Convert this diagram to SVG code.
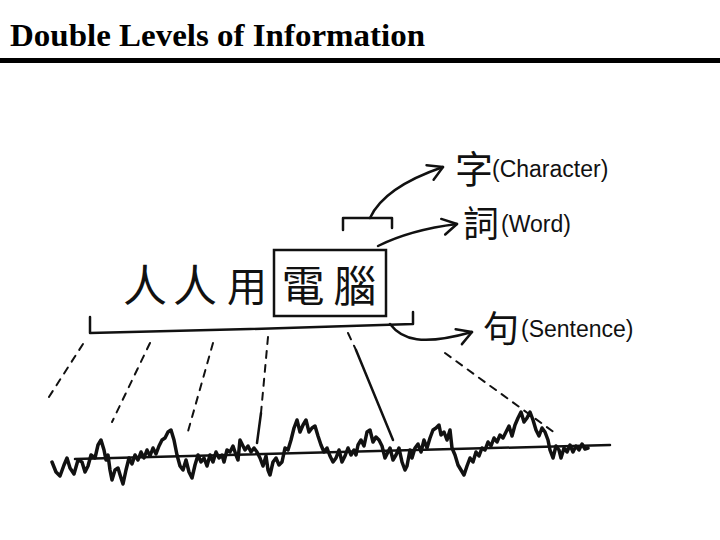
<svg xmlns="http://www.w3.org/2000/svg" width="720" height="540" viewBox="0 0 720 540">
<style>
.title{font-family:"Liberation Serif","Times New Roman",serif;font-weight:bold;font-size:32px;fill:#000}
.cjk{font-family:"Noto Sans CJK TC","Noto Sans CJK SC",sans-serif;fill:#111;text-anchor:middle}
.lbl{font-family:"Liberation Sans",Arial,sans-serif;font-size:23px;fill:#111}
.ln{fill:none;stroke:#111;stroke-width:2.5;stroke-linecap:round;stroke-linejoin:round}
.dash{fill:none;stroke:#111;stroke-width:2;stroke-dasharray:7 7;stroke-linecap:round}
.arr{fill:none;stroke:#111;stroke-width:2.5;stroke-linecap:round;marker-end:url(#ah)}
.wave{fill:none;stroke:#111;stroke-width:3.5;stroke-linejoin:round;stroke-linecap:round}
</style>
<defs>
<marker id="ah" markerUnits="userSpaceOnUse" markerWidth="24" markerHeight="24" refX="0" refY="0" viewBox="-16 -12 24 24" orient="auto" overflow="visible">
<path d="M-15,-7 L0,0 L-13,9" fill="none" stroke="#111" stroke-width="2.5" stroke-linecap="round" stroke-linejoin="round"/>
</marker>
</defs>
<rect width="720" height="540" fill="#fff"/>
<g id="title">
<text class="title" x="10" y="46" textLength="415" lengthAdjust="spacingAndGlyphs">Double Levels of Information</text>
<rect x="0" y="58" width="720" height="5" fill="#000"/>
</g>
<g id="sentence">
<text class="cjk" x="145" y="302" font-size="44">人</text>
<text class="cjk" x="195" y="302" font-size="44">人</text>
<text class="cjk" x="247" y="301" font-size="40">用</text>
<text class="cjk" x="303" y="302" font-size="43">電</text>
<text class="cjk" x="355" y="302" font-size="43">腦</text>
</g>
<g id="word-box">
<rect x="274" y="250" width="112" height="66" fill="none" stroke="#111" stroke-width="2.5"/>
</g>
<g id="brackets">
<path class="ln" d="M90,317 L90,333 L250,329 L413,324 L413,312"/>
<path class="ln" d="M343,230 L343,218 L392,218 L392,228"/>
</g>
<g id="labels">
<text class="cjk" x="474" y="183" font-size="38">字</text>
<text class="lbl" x="492" y="177">(Character)</text>
<text class="cjk" x="481" y="237" font-size="36">詞</text>
<text class="lbl" x="501" y="232">(Word)</text>
<text class="cjk" x="501" y="342" font-size="36">句</text>
<text class="lbl" x="521" y="337">(Sentence)</text>
</g>
<g id="connectors">
<path class="arr" d="M370,218 C380,196 405,180 443,167"/>
<path class="arr" d="M378,246 C400,235 425,228 457,224"/>
<path class="arr" d="M390,324 C402,340 422,346 472,332"/>
<path class="dash" d="M83,344 L47,400"/>
<path class="dash" d="M150,343 L112,422"/>
<path class="dash" d="M213,343 L187,435"/>
<path class="dash" d="M268,337 L261,413"/>
<path class="ln" stroke-width="2" d="M261,413 L257,443"/>
<path class="dash" d="M348,333 L356,350"/>
<path class="ln" stroke-width="1.8" d="M356,350 L393,440"/>
<path class="dash" d="M445,353 L555,433"/>
</g>
<g id="signal">
<path class="ln" stroke-width="3" d="M75,459 L610,445"/>
<polyline class="wave" points="52,462 56,472 60,476 64,465 67,458 70,468 74,474 78,460 82,462 85,472 88,466 91,455 95,458 98,445 101,440 104,450 106,460 108,455 110,470 112,480 115,470 118,468 121,478 123,484 126,470 129,458 132,464 135,455 138,460 141,452 144,458 147,450 150,456 153,448 156,454 159,446 162,440 165,438 168,432 171,430 174,440 177,455 180,466 183,470 186,460 189,472 192,478 195,465 198,455 201,462 204,458 207,466 210,455 213,462 216,452 219,458 222,455 224,462 227,450 230,452 233,446 236,455 238,460 240,440 242,444 245,450 248,446 251,452 254,448 257,452 260,458 263,466 266,456 268,470 270,475 273,462 276,458 279,465 282,462 285,448 288,450 291,440 294,428 297,420 300,432 303,425 306,420 309,432 312,428 315,426 318,436 321,445 324,452 327,448 330,456 333,462 336,458 339,450 342,462 345,456 348,448 351,455 354,450 356,455 358,445 361,440 364,446 367,432 370,430 373,442 376,437 379,440 382,446 385,458 388,452 390,448 393,460 396,455 399,448 402,462 405,470 407,466 410,450 412,458 415,448 418,444 421,452 424,440 427,448 430,438 433,430 436,428 439,425 441,435 444,432 447,440 450,430 452,448 455,455 458,465 461,470 464,475 467,466 470,458 473,462 476,452 479,456 482,448 485,450 488,442 491,446 494,438 497,442 500,435 503,438 506,432 509,426 512,436 515,425 518,418 521,412 524,422 527,418 530,412 533,420 536,430 539,436 542,428 545,432 548,440 550,450 553,458 556,446 559,450 561,458 564,448 567,452 570,445 573,452 576,446 579,450 582,444 585,449 588,448"/>
</g>
</svg>
